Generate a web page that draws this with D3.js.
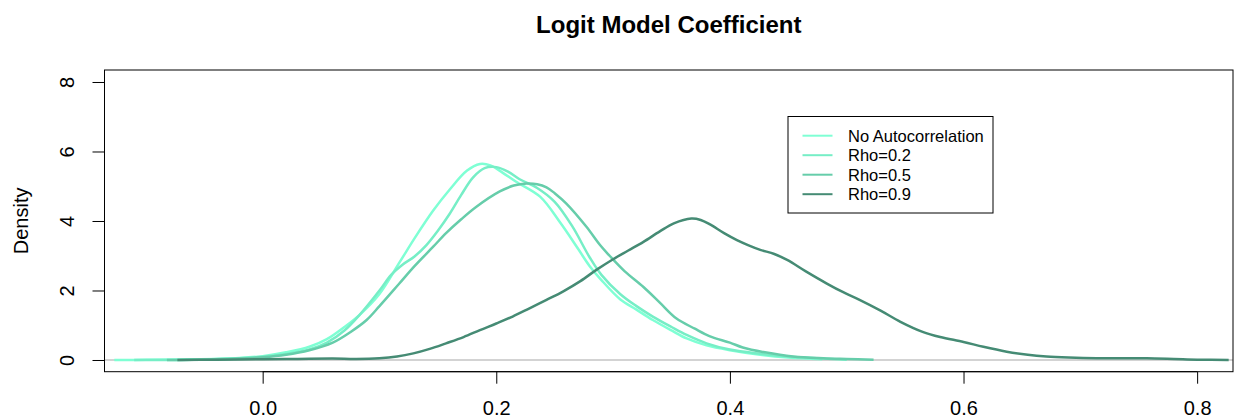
<!DOCTYPE html>
<html lang="en">
<head>
<meta charset="UTF-8" />
<title>Logit Model Coefficient</title>
<script src="https://cdnjs.cloudflare.com/ajax/libs/d3/7.8.5/d3.min.js"></script>
<style>
  body { margin: 0; background: #fff; }
  svg { display: block; font-family: "Liberation Sans", Arial, sans-serif; }
</style>
</head>
<body>
<script>
// series names + colours (R aquamarine1..4)
const seriesNames = ["No Autocorrelation", "Rho=0.2", "Rho=0.5", "Rho=0.9"];
const seriesColors = ["#7FFFD4", "#76EEC6", "#66CDAA", "#458B74"];

const xTicks = [0.0, 0.2, 0.4, 0.6, 0.8];
const yTicks = [0, 2, 4, 6, 8];

// density estimates: [coefficient, density]
const noAuto = [[-0.127,0],[-0.10,0.005],[-0.06,0.02],[-0.02,0.06],[0.0,0.11],[0.02,0.22],[0.04,0.38],
  [0.055,0.6],[0.07,0.95],[0.083,1.3],[0.1,1.9],[0.117,2.8],[0.13,3.5],[0.146,4.3],[0.16,4.9],
  [0.175,5.45],[0.186,5.64],[0.195,5.6],[0.205,5.4],[0.217,5.13],[0.2375,4.7],[0.255,3.94],
  [0.27,3.2],[0.28,2.7],[0.29,2.3],[0.306,1.75],[0.32,1.45],[0.334,1.15],[0.35,0.85],[0.363,0.62],
  [0.38,0.42],[0.40,0.28],[0.426,0.15],[0.45,0.07],[0.479,0.02]];

const rho02 = [[-0.11,0],[-0.06,0.01],[-0.02,0.05],[0.0,0.09],[0.02,0.17],[0.04,0.3],[0.055,0.5],
  [0.07,0.85],[0.083,1.3],[0.1,2.0],[0.11,2.45],[0.12,2.75],[0.13,2.98],[0.14,3.3],[0.15,3.72],
  [0.16,4.2],[0.17,4.75],[0.18,5.25],[0.19,5.52],[0.2,5.55],[0.21,5.42],[0.22,5.2],[0.235,4.95],
  [0.25,4.55],[0.265,3.85],[0.28,2.95],[0.29,2.45],[0.306,1.9],[0.32,1.55],[0.334,1.25],[0.35,0.95],
  [0.363,0.72],[0.38,0.48],[0.40,0.3],[0.426,0.18],[0.45,0.1],[0.48,0.04],[0.50,0.01]];

const rho05 = [[-0.082,0],[-0.04,0.02],[0.0,0.08],[0.02,0.15],[0.04,0.28],[0.06,0.5],[0.075,0.8],
  [0.089,1.15],[0.1,1.55],[0.117,2.2],[0.13,2.7],[0.146,3.26],[0.157,3.65],[0.17,4.05],[0.183,4.41],
  [0.203,4.85],[0.215,5.02],[0.226,5.08],[0.235,5.06],[0.243,4.97],[0.25,4.8],[0.26,4.5],
  [0.277,3.84],[0.289,3.3],[0.297,3.0],[0.31,2.55],[0.326,2.1],[0.34,1.65],[0.354,1.2],[0.37,0.9],
  [0.383,0.68],[0.40,0.5],[0.411,0.36],[0.43,0.22],[0.454,0.1],[0.48,0.05],[0.50,0.03],[0.523,0.01]];

const rho09 = [[-0.073,0],[-0.04,0.01],[0.0,0.02],[0.03,0.03],[0.06,0.04],[0.08,0.03],[0.1,0.05],
  [0.115,0.1],[0.129,0.19],[0.143,0.32],[0.157,0.48],[0.172,0.66],[0.186,0.86],[0.2,1.05],
  [0.214,1.25],[0.228,1.48],[0.243,1.73],[0.257,1.97],[0.272,2.27],[0.286,2.6],[0.3,2.9],
  [0.313,3.15],[0.326,3.4],[0.34,3.7],[0.352,3.93],[0.367,4.07],[0.375,4.03],[0.383,3.9],
  [0.395,3.65],[0.406,3.45],[0.416,3.3],[0.426,3.17],[0.438,3.05],[0.449,2.88],[0.465,2.55],
  [0.483,2.2],[0.497,1.95],[0.511,1.73],[0.529,1.42],[0.546,1.1],[0.565,0.81],[0.58,0.66],
  [0.60,0.52],[0.617,0.38],[0.637,0.24],[0.655,0.15],[0.671,0.1],[0.69,0.07],[0.714,0.05],
  [0.74,0.05],[0.757,0.05],[0.78,0.03],[0.8,0.01],[0.827,0.0]];

const allSeries = [noAuto, rho02, rho05, rho09];

var width = 1235, height = 419;
var box = {left: 104.5, right: 1233, top: 70, bottom: 371.7};

var x = d3.scaleLinear().domain([-0.1354, 0.8307]).range([box.left, box.right]);
var y = d3.scaleLinear().domain([-0.337, 8.345]).range([box.bottom, box.top]);

var svg = d3.select("body").append("svg")
  .attr("width", width).attr("height", height);

svg.append("defs").append("clipPath").attr("id", "plotclip")
  .append("rect").attr("x", box.left).attr("y", box.top)
  .attr("width", box.right - box.left).attr("height", box.bottom - box.top);

// title
svg.append("text")
  .attr("x", (box.left + box.right) / 2).attr("y", 33)
  .attr("text-anchor", "middle")
  .style("font-size", "24px").style("font-weight", "bold")
  .text("Logit Model Coefficient");

var plot = svg.append("g").attr("clip-path", "url(#plotclip)");

// zero line
plot.append("line")
  .attr("x1", box.left).attr("x2", box.right)
  .attr("y1", y(0)).attr("y2", y(0))
  .attr("stroke", "#d3d3d3").attr("stroke-width", 2);

var line = d3.line()
  .x(function(d) { return x(d[0]); })
  .y(function(d) { return y(d[1]); })
  .curve(d3.curveCatmullRom.alpha(0.5));

allSeries.forEach(function(s, i) {
  plot.append("path").datum(s)
    .attr("d", line)
    .attr("fill", "none")
    .attr("stroke", seriesColors[i])
    .attr("stroke-width", 2.5)
    .attr("stroke-linejoin", "round");
});

// box
svg.append("rect")
  .attr("x", box.left).attr("y", box.top)
  .attr("width", box.right - box.left).attr("height", box.bottom - box.top)
  .attr("fill", "none").attr("stroke", "#000").attr("stroke-width", 1);

// x axis
var xAxis = d3.axisBottom(x).tickValues(xTicks).tickSize(12).tickPadding(17)
  .tickFormat(d3.format(".1f"));
var gx = svg.append("g").attr("transform", "translate(0," + box.bottom + ")").call(xAxis);
gx.select(".domain").attr("d", "M" + x(0) + ",0H" + x(0.8)).attr("stroke", "#000");
gx.selectAll("text").style("font-size", "20px").attr("fill", "#000")
  .style("font-family", "Liberation Sans, Arial, sans-serif");
gx.selectAll("line").attr("stroke", "#000");

// y axis
var yAxis = d3.axisLeft(y).tickValues(yTicks).tickSize(12).tickFormat(d3.format("d"));
var gy = svg.append("g").attr("transform", "translate(" + box.left + ",0)").call(yAxis);
gy.select(".domain").attr("d", "M0," + y(0) + "V" + y(8)).attr("stroke", "#000");
gy.selectAll("line").attr("stroke", "#000");
gy.selectAll("text")
  .attr("x", null).attr("dy", null)
  .attr("text-anchor", "middle")
  .attr("transform", "translate(-31,0) rotate(-90)")
  .style("font-size", "20px").attr("fill", "#000")
  .style("font-family", "Liberation Sans, Arial, sans-serif");

// y label
svg.append("text")
  .attr("transform", "translate(28," + ((box.top + box.bottom) / 2) + ") rotate(-90)")
  .attr("text-anchor", "middle")
  .style("font-size", "20px")
  .text("Density");

// legend
var leg = svg.append("g");
leg.append("rect")
  .attr("x", 788).attr("y", 116.5).attr("width", 205).attr("height", 96.5)
  .attr("fill", "#fff").attr("stroke", "#000").attr("stroke-width", 1);
seriesNames.forEach(function(name, i) {
  var cy = 135.7 + i * 19.5;
  leg.append("line")
    .attr("x1", 802.5).attr("x2", 832.5).attr("y1", cy).attr("y2", cy)
    .attr("stroke", seriesColors[i]).attr("stroke-width", 2);
  leg.append("text")
    .attr("x", 848).attr("y", cy + 5.8)
    .style("font-size", "16.5px")
    .text(name);
});
</script>
</body>
</html>
